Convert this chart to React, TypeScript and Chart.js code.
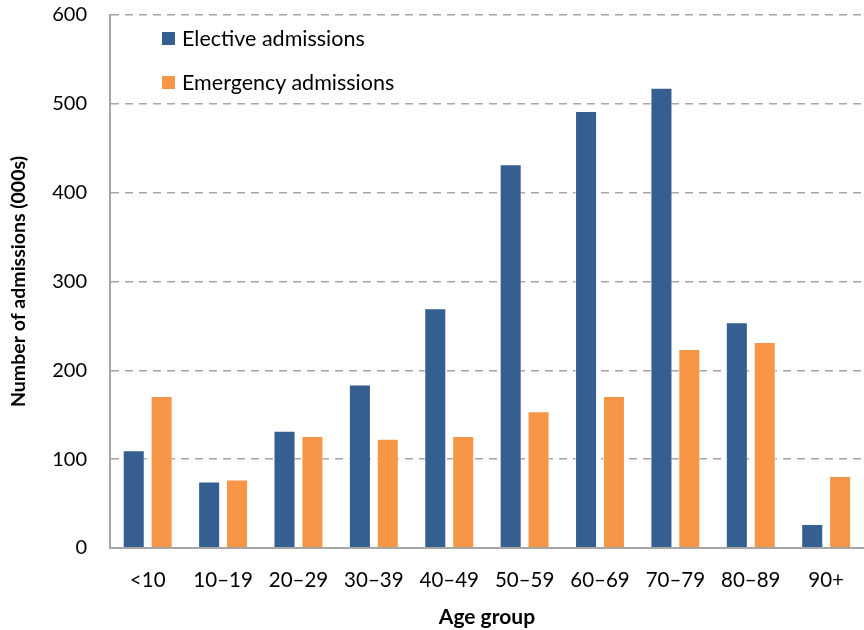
import React, { useEffect, useRef } from "react";
import { Chart, registerables } from "chart.js";

Chart.register(...registerables);

const categories = ["<10", "10–19", "20–29", "30–39", "40–49", "50–59", "60–69", "70–79", "80–89", "90+"];
const electiveValues = [110, 75, 132, 184, 270, 432, 492, 518, 254, 27];
const emergencyValues = [171, 77, 126, 123, 126, 154, 171, 224, 232, 81];
const seriesNames = ["Elective admissions", "Emergency admissions"];
const yTicks = [0, 100, 200, 300, 400, 500, 600];
const xTitle = "Age group";
const yTitle = "Number of admissions (000s)";

const BLUE = "#365F91";
const ORANGE = "#F79646";
const FONT = "Lato, 'Open Sans', sans-serif";

export default function App() {
  const ref = useRef<HTMLCanvasElement | null>(null);

  useEffect(() => {
    document.body.style.margin = "0";
    const canvas = ref.current;
    if (!canvas) return;
    const chart = new Chart(canvas, {
      type: "bar",
      data: {
        labels: categories,
        datasets: [
          {
            label: seriesNames[0],
            data: electiveValues,
            backgroundColor: BLUE,
            borderColor: "rgba(255,255,255,0.5)",
            borderWidth: 1,
            categoryPercentage: 0.74,
            barPercentage: 0.79,
          },
          {
            label: seriesNames[1],
            data: emergencyValues,
            backgroundColor: ORANGE,
            borderColor: "rgba(255,255,255,0.6)",
            borderWidth: 1,
            categoryPercentage: 0.74,
            barPercentage: 0.79,
          },
        ],
      },
      options: {
        responsive: false,
        animation: false,
        layout: { padding: { top: 15, right: 0, left: 0, bottom: 0 } },
        plugins: {
          legend: { display: false },
          tooltip: { enabled: false },
        },
        scales: {
          x: {
            grid: { display: false, drawTicks: false },
            border: { display: true, color: "#a6a6a6", width: 2 },
            ticks: {
              color: "#000",
              font: { family: FONT, size: 20.5 },
              padding: 20,
              maxRotation: 0,
              autoSkip: false,
            },
            title: {
              display: true,
              text: xTitle,
              color: "#000",
              font: { family: FONT, size: 21, weight: "bold" },
              padding: { top: 10, bottom: 0 },
            },
            afterFit: (scale: any) => {
              scale.height = 82;
            },
          },
          y: {
            min: 0,
            max: 600,
            afterBuildTicks: (scale: any) => {
              scale.ticks = yTicks.map((v) => ({ value: v }));
            },
            grid: {
              color: "#a6a6a6",
              lineWidth: 1.5,
              drawTicks: true,
              tickLength: 23,
              tickColor: "rgba(0,0,0,0)",
            },
            border: { display: true, color: "#a6a6a6", width: 2, dash: [8, 6] },
            ticks: {
              color: "#000",
              font: { family: FONT, size: 20 },
              padding: 0,
            },
            title: {
              display: true,
              text: yTitle,
              color: "#000",
              font: { family: FONT, size: 19.5, weight: "bold" },
              padding: { top: 7, bottom: 0 },
            },
            afterFit: (scale: any) => {
              scale.width = 110;
            },
          },
        },
      },
      plugins: [
        {
          id: "axisFix",
          afterDraw(c: any) {
            const { ctx, chartArea } = c;
            ctx.save();
            ctx.strokeStyle = "#a6a6a6";
            ctx.lineWidth = 2;
            ctx.setLineDash([]);
            ctx.beginPath();
            ctx.moveTo(chartArea.left, chartArea.top);
            ctx.lineTo(chartArea.left, chartArea.bottom);
            ctx.lineTo(chartArea.right, chartArea.bottom);
            ctx.stroke();
            ctx.restore();
          },
        },
      ],
    } as any);
    return () => chart.destroy();
  }, []);

  const legendItem = (color: string, text: string, top: number) => (
    <div
      style={{
        position: "absolute",
        left: 162,
        top,
        height: 26,
        display: "flex",
        alignItems: "center",
        fontFamily: FONT,
        fontSize: 21.5,
        lineHeight: "26px",
        color: "#000",
        whiteSpace: "nowrap",
      }}
    >
      <span style={{ display: "inline-block", width: 13, height: 13, background: color, marginRight: 7 }} />
      <span>{text}</span>
    </div>
  );

  return (
    <div style={{ position: "fixed", left: 0, top: 0, width: 864, height: 630, background: "#fff" }}>
      <canvas ref={ref} width={864} height={630} style={{ display: "block" }} />
      {legendItem(BLUE, seriesNames[0], 25)}
      {legendItem(ORANGE, seriesNames[1], 69)}
    </div>
  );
}
